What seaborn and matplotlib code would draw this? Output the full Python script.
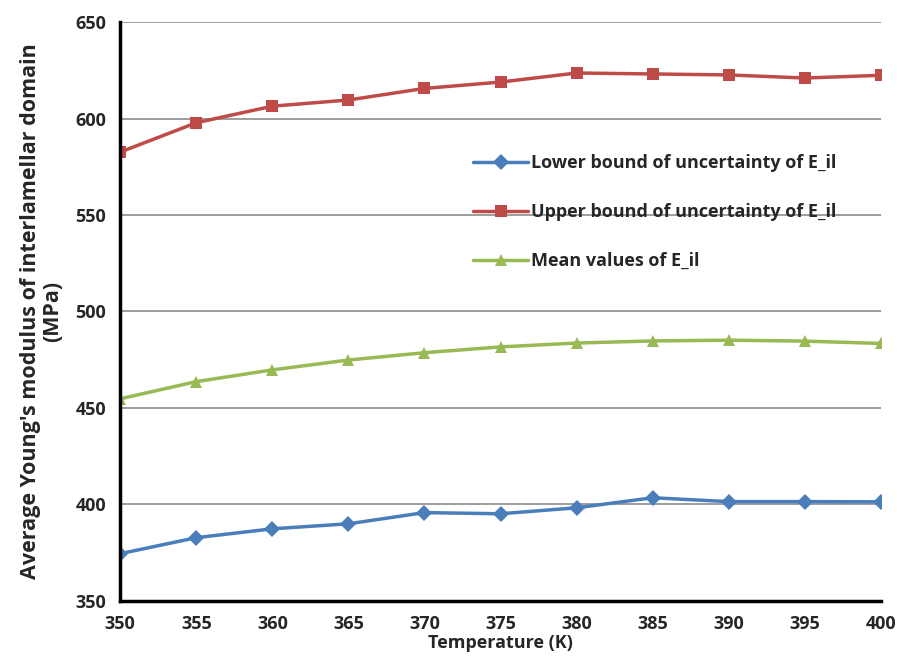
import seaborn as sns
import matplotlib.pyplot as plt
import pandas as pd

# temperatures (K) and the three series
temps = [350, 355, 360, 365, 370, 375, 380, 385, 390, 395, 400]
lower = [374.4, 382.7, 387.3, 389.9, 395.7, 395.1, 398.2, 403.4, 401.4, 401.4, 401.3]
upper = [582.6, 597.8, 606.4, 609.6, 615.6, 618.9, 623.6, 623.1, 622.6, 621.0, 622.4]
mean_vals = [454.7, 463.6, 469.7, 474.8, 478.6, 481.6, 483.6, 484.7, 485.1, 484.6, 483.4]

labels = ["Lower bound of uncertainty of E_il",
          "Upper bound of uncertainty of E_il",
          "Mean values of E_il"]

df = pd.DataFrame({
    "T": temps * 3,
    "E": lower + upper + mean_vals,
    "series": [labels[0]] * 11 + [labels[1]] * 11 + [labels[2]] * 11,
})

sns.set_style("white")
plt.rcParams['font.family'] = ['Open Sans', 'DejaVu Sans']
plt.rcParams['font.weight'] = 'bold'

fig = plt.figure(figsize=(8.97, 6.69), dpi=100)
ax = fig.add_axes([0.134, 0.102, 0.848, 0.865])

palette = {labels[0]: "#4A7EBB", labels[1]: "#BE4B48", labels[2]: "#98B954"}
markers = {labels[0]: "D", labels[1]: "s", labels[2]: "^"}

sns.lineplot(data=df, x="T", y="E", hue="series", style="series",
             palette=palette, markers=markers, dashes=False,
             markersize=8.5, linewidth=2.5, markeredgewidth=0, ax=ax)

ax.set_xlim(350, 400)
ax.set_ylim(350, 650)
ax.set_xticks(range(350, 401, 5))
ax.set_yticks(range(350, 651, 50))
ax.yaxis.grid(True, color="#8c8c8c", linewidth=1.2)
ax.set_axisbelow(True)
for s in ["top", "right"]:
    ax.spines[s].set_visible(False)
for s in ["left", "bottom"]:
    ax.spines[s].set_color("black")
    ax.spines[s].set_linewidth(2.5)
ax.tick_params(axis="both", direction="out", length=5, width=2, color="black",
               labelsize=13, pad=5)
for t in ax.get_xticklabels() + ax.get_yticklabels():
    t.set_fontweight("bold")

ax.set_xlabel("Temperature (K)", fontsize=13, fontweight="bold", labelpad=1)
ax.set_ylabel("Average Young's modulus of interlamellar domain\n(MPa)",
              fontsize=15.5, fontweight="bold", labelpad=9, linespacing=1.05)

leg = ax.legend(loc="upper left", bbox_to_anchor=(0.443, 0.80), frameon=False,
                fontsize=13, labelspacing=1.72, handlelength=3.0,
                handletextpad=0.2)
for t in leg.get_texts():
    t.set_fontweight("bold")

plt.savefig("out.png", dpi=100)
